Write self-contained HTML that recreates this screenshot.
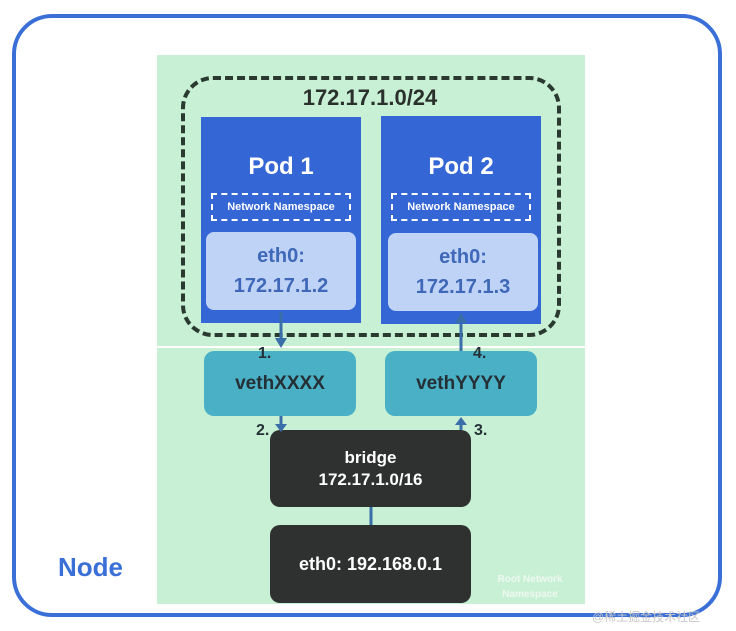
<!DOCTYPE html>
<html><head><meta charset="utf-8"><style>
body{margin:0;width:736px;height:631px;background:#fff;position:relative;overflow:hidden;font-family:"Liberation Sans","Noto Sans CJK SC",sans-serif}
.a{position:absolute;box-sizing:border-box}
.c{display:flex;align-items:center;justify-content:center;text-align:center;font-weight:bold}
</style></head><body>
<div class="a" style="left:12px;top:14px;width:710px;height:603px;border:4px solid #3a6fd8;border-radius:40px"></div>
<div class="a" style="left:157px;top:55px;width:428px;height:549px;background:#c8f0d4"></div>
<div class="a" style="left:157px;top:346px;width:428px;height:2px;background:#fff"></div>
<div class="a" style="left:181px;top:76px;width:380px;height:261px;border:4px dashed #2a3a30;border-radius:32px"></div>
<div class="a c" style="left:250px;top:84px;width:240px;height:28px;font-size:22px;color:#2a302c">172.17.1.0/24</div>
<div class="a" style="left:201px;top:117px;width:160px;height:206px;background:#3466d6"></div>
<div class="a" style="left:381px;top:116px;width:160px;height:208px;background:#3466d6"></div>
<div class="a c" style="left:201px;top:150px;width:160px;height:34px;font-size:24px;color:#fff">Pod 1</div>
<div class="a c" style="left:381px;top:150px;width:160px;height:34px;font-size:24px;color:#fff">Pod 2</div>
<div class="a c" style="left:211px;top:193px;width:140px;height:28px;border:2px dashed #fff;font-size:11px;color:#fff">Network Namespace</div>
<div class="a c" style="left:391px;top:193px;width:140px;height:28px;border:2px dashed #fff;font-size:11px;color:#fff">Network Namespace</div>
<div class="a c" style="left:206px;top:232px;width:150px;height:78px;background:#bfd3f6;border-radius:8px;color:#3f68b8;font-size:20px;line-height:30px">eth0:<br>172.17.1.2</div>
<div class="a c" style="left:388px;top:233px;width:150px;height:78px;background:#bfd3f6;border-radius:8px;color:#3f68b8;font-size:20px;line-height:30px">eth0:<br>172.17.1.3</div>
<div class="a c" style="left:204px;top:351px;width:152px;height:65px;background:#4ab0c6;border-radius:10px;font-size:19px;color:#243036">vethXXXX</div>
<div class="a c" style="left:385px;top:351px;width:152px;height:65px;background:#4ab0c6;border-radius:10px;font-size:19px;color:#243036">vethYYYY</div>
<div class="a c" style="left:270px;top:430px;width:201px;height:77px;background:#2f3030;border-radius:10px;color:#fff;font-size:17px;line-height:22px">bridge<br>172.17.1.0/16</div>
<div class="a c" style="left:270px;top:525px;width:201px;height:78px;background:#2f3030;border-radius:10px;color:#fff;font-size:18px">eth0: 192.168.0.1</div>
<div class="a c" style="left:480px;top:572px;width:100px;height:30px;color:#eef8f0;font-size:10px;line-height:15px">Root Network<br>Namespace</div>
<div class="a" style="left:58px;top:552px;font-size:26px;font-weight:bold;color:#3a6fd8">Node</div>
<div class="a" style="left:258px;top:345px;font-size:16px;font-weight:bold;color:#243036">1.</div>
<div class="a" style="left:473px;top:345px;font-size:16px;font-weight:bold;color:#243036">4.</div>
<div class="a" style="left:256px;top:422px;font-size:16px;font-weight:bold;color:#243036">2.</div>
<div class="a" style="left:474px;top:422px;font-size:16px;font-weight:bold;color:#243036">3.</div>
<svg class="a" style="left:0;top:0" width="736" height="631">
<g stroke="#3a6ea8" stroke-width="3" fill="#3a6ea8">
<line x1="281" y1="312" x2="281" y2="342"/><polygon points="275,338 287,338 281,348" stroke="none"/>
<line x1="461" y1="324" x2="461" y2="351"/><polygon points="455,323 467,323 461,313" stroke="none"/>
<line x1="281" y1="416" x2="281" y2="426"/><polygon points="275,424 287,424 281,432" stroke="none"/>
<line x1="461" y1="422" x2="461" y2="430"/><polygon points="455,425 467,425 461,417" stroke="none"/>
<line x1="371" y1="507" x2="371" y2="525"/>
</g></svg>
<div class="a" style="left:592px;top:608px;font-size:12px;color:#c8c8c8">@稀土掘金技术社区</div>
</body></html>
